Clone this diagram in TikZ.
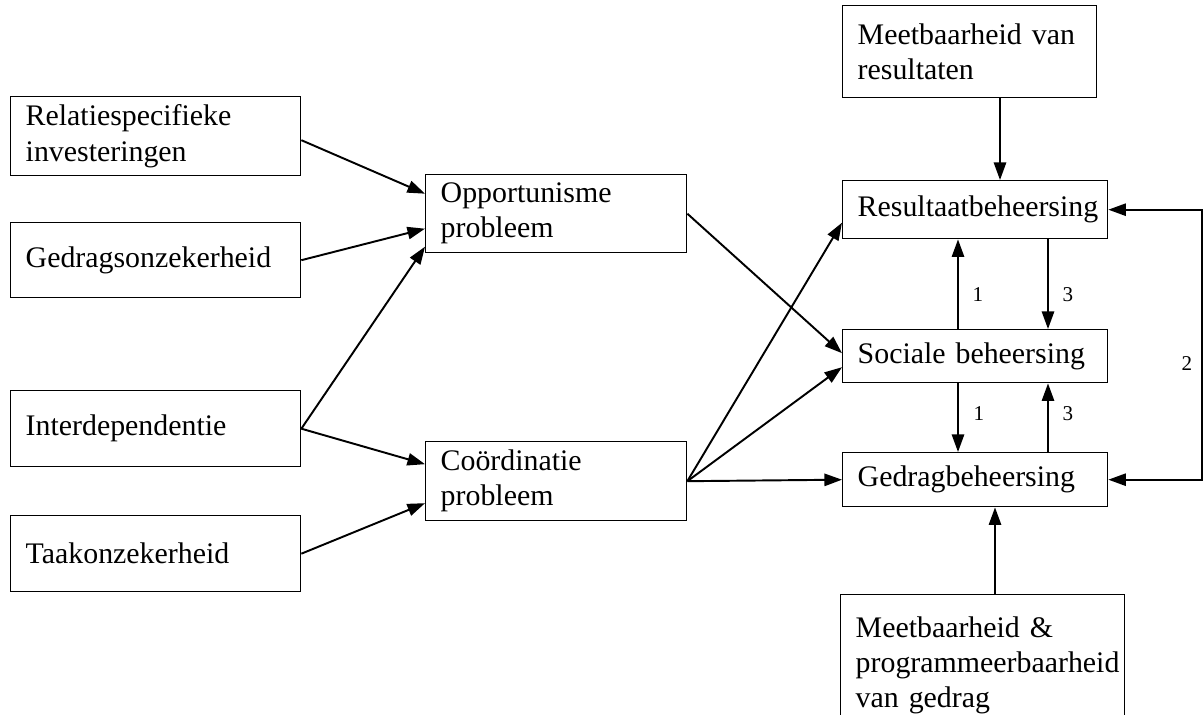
\documentclass[tikz,border=0pt]{standalone}
\usepackage{fontspec}
\setmainfont{Liberation Serif}
\usetikzlibrary{arrows.meta,calc}
\tikzset{
    blok/.style={draw, line width=0.8pt, anchor=north west, align=left,
        inner xsep=0.3cm, inner ysep=0pt, font=\fontsize{17}{20}\selectfont},
    pijl/.style={line width=1.1pt, -{Triangle[length=10pt,width=7pt]}},
    pijlbeide/.style={line width=1.1pt, {Triangle[length=10pt,width=7pt]}-{Triangle[length=10pt,width=7pt]}},
    nr/.style={font=\fontsize{12}{14}\selectfont}
}
\begin{document}
\begin{tikzpicture}[x=0.02cm,y=-0.02cm]
    \useasboundingbox (0,0) rectangle (1203,715);
    %% oorzaken
    \node[blok, text width=5.2cm, minimum height=1.58cm] (rel) at (10,96) {Relatiespecifieke\\investeringen};
    \node[blok, text width=5.2cm, minimum height=1.5cm] (ged) at (10,222) {Gedragsonzekerheid};
    \node[blok, text width=5.2cm, minimum height=1.52cm] (inter) at (10,390) {Interdependentie};
    \node[blok, text width=5.2cm, minimum height=1.52cm] (taak) at (10,515) {Taakonzekerheid};
    %% problemen
    \node[blok, text width=4.62cm, minimum height=1.56cm] (opp) at (425,174) {Opportunisme\\probleem};
    \node[blok, text width=4.62cm, minimum height=1.58cm] (coord) at (425,441) {Coördinatie\\probleem};
    %% beheersing
    \node[blok, text width=4.48cm, minimum height=1.84cm] (meetr) at (842,5) {Meetbaarheid van\\resultaten};
    \node[blok, text width=4.7cm, minimum height=1.16cm] (res) at (842,180) {Resultaatbeheersing};
    \node[blok, text width=4.7cm, minimum height=1.06cm] (soc) at (842,329) {Sociale beheersing};
    \node[blok, text width=4.7cm, minimum height=1.08cm] (gedb) at (842,452) {Gedragbeheersing};
    \node[blok, text width=5.08cm, minimum height=2.84cm] (meetg) at (840,594) {Meetbaarheid \&\\programmeerbaarheid\\van gedrag};
    %% hulpcoordinaten
    \coordinate (km) at (1000,0);
    \coordinate (kg) at (995,0);
    \coordinate (k1) at (958,0);
    \coordinate (k3) at (1048,0);
    \coordinate (fb) at (1202,0);
    %% pijlen links
    \draw[pijl] ($(rel.east)+(0,4)$) -- ($(opp.west)+(0,-20)$);
    \draw[pijl] (ged.east) -- ($(opp.west)+(0,15)$);
    \draw[pijl] (inter.east) -- ($(opp.west)+(0,33)$);
    \draw[pijl] (inter.east) -- ($(coord.west)+(0,-17)$);
    \draw[pijl] (taak.east) -- ($(coord.west)+(0,22)$);
    %% pijlen midden
    \draw[pijl] (opp.east) -- ($(soc.west)+(0,-3)$);
    \draw[pijl] (coord.east) -- ($(res.west)+(0,13)$);
    \draw[pijl] (coord.east) -- ($(soc.west)+(0,11)$);
    \draw[pijl] (coord.east) -- (gedb.west);
    %% pijlen rechts
    \draw[pijl] (meetr.south -| km) -- (res.north -| km);
    \draw[pijl] (meetg.north -| kg) -- (gedb.south -| kg);
    \draw[pijl] (soc.north -| k1) -- (res.south -| k1);
    \draw[pijl] (res.south -| k3) -- (soc.north -| k3);
    \draw[pijl] (soc.south -| k1) -- (gedb.north -| k1);
    \draw[pijl] (gedb.north -| k3) -- (soc.south -| k3);
    \draw[pijlbeide] (res.east) -- (res.east -| fb) -- (gedb.east -| fb) -- (gedb.east);
    %% nummers
    \node[nr] (n1a) at (978,295) {1};
    \node[nr] (n3a) at (1068,295) {3};
    \node[nr] (n1b) at (979,414) {1};
    \node[nr] (n3b) at (1068,414) {3};
    \node[nr] (n2) at (1187,364) {2};
\end{tikzpicture}
\end{document}
